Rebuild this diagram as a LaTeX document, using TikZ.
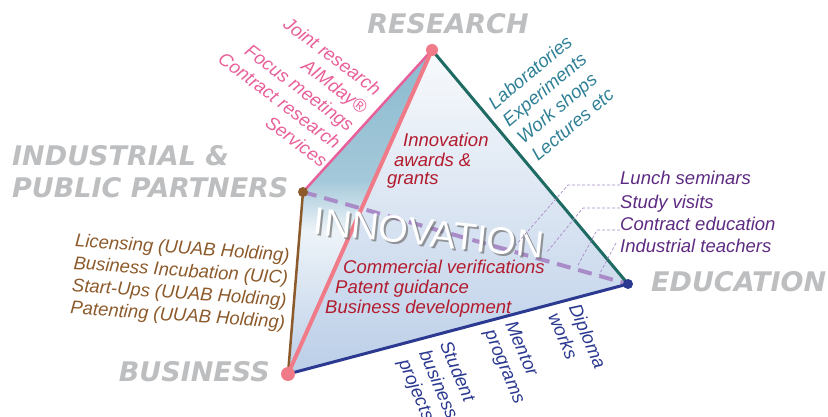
\documentclass[tikz,border=0pt]{standalone}
\usepackage{fontspec}
\setmainfont{Liberation Sans}
\newfontfamily\capfont{DejaVu Sans}

\definecolor{capgray}{HTML}{BDBEC0}
\definecolor{respink}{HTML}{E8609A}
\definecolor{salmon}{HTML}{F07A88}
\definecolor{eduteal}{HTML}{1D6B62}
\definecolor{labteal}{HTML}{2F8096}
\definecolor{busbrown}{HTML}{8C5A2B}
\definecolor{navy}{HTML}{2B3990}
\definecolor{lavender}{HTML}{A88BC7}
\definecolor{innored}{HTML}{B31B2E}
\definecolor{eduplum}{HTML}{5E2B82}
\definecolor{filltop}{HTML}{F8FAFC}
\definecolor{fillbottom}{HTML}{BCCFE8}
\definecolor{steeltop}{HTML}{8BBACF}
\definecolor{steelmid}{HTML}{EDF3F8}
\pgfdeclareverticalshading{steelfade}{100bp}{color(0bp)=(fillbottom); color(25bp)=(fillbottom);
  color(47bp)=(steelmid); color(55bp)=(steeltop!75!steelmid); color(75bp)=(steeltop); color(100bp)=(steeltop)}

\begin{document}
\begin{tikzpicture}[x=1pt,y=-1pt,
  corner/.style={font=\capfont\fontsize{27}{32}\selectfont\bfseries\itshape,text=capgray,inner sep=0pt,align=left},
  list/.style={font=\fontsize{18.5}{22.4}\selectfont\itshape,inner sep=0pt},
  dot/.style={circle,inner sep=0pt,minimum size=#1},
  guide/.style={lavender,line width=0.7pt,dash pattern=on 3pt off 2pt}]
\useasboundingbox (0,0) rectangle (828,417);
\coordinate (R) at (432,50);
\coordinate (I) at (303,192);
\coordinate (B) at (288,374);
\coordinate (E) at (628,284);
\fill[top color=filltop,bottom color=fillbottom] (R) -- (B) -- (E) -- cycle;
\fill[shading=steelfade] (R) -- (I) -- (B) -- cycle;
\draw[lavender,line width=4pt,dash pattern=on 14pt off 8pt] (I) -- (E);
\draw[respink,line width=2.5pt] (R) -- (I);
\draw[eduteal,line width=3pt] (R) -- (E);
\draw[busbrown,line width=2.5pt] (I) -- (B);
\draw[navy,line width=3pt] (B) -- (E);
\draw[salmon,line width=4pt] (R) -- (B);
\node[font=\fontsize{38}{40}\selectfont,text=black!55,opacity=.7,rotate=-6] (innoshadow) at (431,235) {INNOVATION};
\node[font=\fontsize{38}{40}\selectfont,text=white,rotate=-6] (inno) at (429,233) {INNOVATION};
\node[dot=12pt,fill=salmon] (r) at (R) {};
\node[dot=10pt,fill=busbrown] (i) at (I) {};
\node[dot=14pt,fill=salmon] (b) at (B) {};
\node[dot=10pt,fill=navy] (e) at (E) {};

\node[corner] (research) at (448,24) {RESEARCH};
\node[corner,anchor=north west] (partners) at (12,145) {INDUSTRIAL \&\\PUBLIC PARTNERS};
\node[corner,anchor=east] (business) at (270,372) {BUSINESS};
\node[corner,anchor=west] (education) at (651,282) {EDUCATION};

\node[list,text=respink,align=right,rotate=-37,anchor=east] (joint) at (352,127)
  {Joint research\\AIMday®\\Focus meetings\\Contract research\\Services};
\node[list,text=labteal,align=left,rotate=40,anchor=west] (labs) at (512,131)
  {Laboratories\\Experiments\\Work shops\\Lectures etc};
\node[list,text=busbrown,align=left,rotate=-4] (licensing) at (180,283)
  {Licensing (UUAB Holding)\\Business Incubation (UIC)\\Start-Ups (UUAB Holding)\\Patenting (UUAB Holding)};

\node[list,text=innored,anchor=base west] (inn1) at (403,147) {Innovation};
\node[list,text=innored,anchor=base west] (inn2) at (394,166.5) {awards \&};
\node[list,text=innored,anchor=base west] (inn3) at (387,185) {grants};
\node[list,text=innored,anchor=base west] (com1) at (343,273) {Commercial verifications};
\node[list,text=innored,anchor=base west] (com2) at (335,293) {Patent guidance};
\node[list,text=innored,anchor=base west] (com3) at (325,313) {Business development};

\node[list,text=navy,align=left,rotate=-67,anchor=north west] (student) at (452,339) {Student\\business\\projects};
\node[list,text=navy,align=left,rotate=-67,anchor=north west] (mentor) at (517,319) {Mentor\\programs};
\node[list,text=navy,align=left,rotate=-67,anchor=north west] (diploma) at (581,302) {Diploma\\works};

\node[list,text=eduplum,anchor=base west] (lun) at (620,185) {Lunch seminars};
\node[list,text=eduplum,anchor=base west] (stu) at (620,208) {Study visits};
\node[list,text=eduplum,anchor=base west] (con) at (620,230) {Contract education};
\node[list,text=eduplum,anchor=base west] (ind) at (620,252) {Industrial teachers};
\coordinate (k1) at (568,185);
\coordinate (k2) at (583,208);
\coordinate (k3) at (597,230);
\coordinate (k4) at (616,243);
\coordinate (d1) at (515,246);
\coordinate (d2) at (547,252);
\coordinate (d3) at (577,267);
\coordinate (d4) at (599,275);
\draw[guide] (lun.base west) -- (k1) -- (d1);
\draw[guide] (stu.base west) -- (k2) -- (d2);
\draw[guide] (con.base west) -- (k3) -- (d3);
\draw[guide] (k4) -- (d4);
\end{tikzpicture}
\end{document}
